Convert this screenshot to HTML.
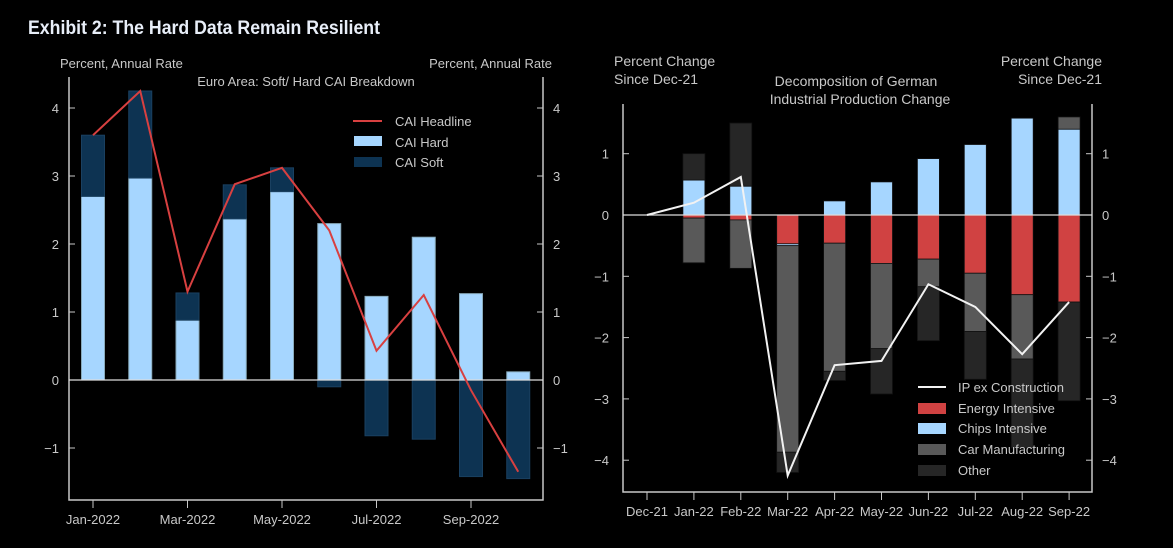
<!DOCTYPE html>
<html><head><meta charset="utf-8"><style>
html,body{margin:0;padding:0;background:#000;}
svg{display:block;font-family:"Liberation Sans",sans-serif;}
</style></head><body>
<svg id="s" width="1173" height="548" viewBox="0 0 1173 548">
<text x="28" y="34" fill="#e8eef8" font-size="19" font-weight="bold" textLength="352" lengthAdjust="spacingAndGlyphs" font-family="'Liberation Sans Narrow','Liberation Sans',sans-serif">Exhibit 2: The Hard Data Remain Resilient</text>
</svg>
<script>
const leftMonths=['Jan-2022','Feb','Mar-2022','Apr','May-2022','Jun','Jul-2022','Aug','Sep-2022','Oct'];
const caiHard=[2.7,2.97,0.88,2.37,2.77,2.3,1.23,2.1,1.27,0.12];
const caiSoft=[0.9,1.28,0.4,0.5,0.35,-0.1,-0.82,-0.87,-1.42,-1.45];
const caiHeadline=[3.6,4.25,1.3,2.88,3.12,2.2,0.43,1.25,-0.15,-1.35];
const leftTicks=[-1,0,1,2,3,4];
const rightMonths=['Dec-21','Jan-22','Feb-22','Mar-22','Apr-22','May-22','Jun-22','Jul-22','Aug-22','Sep-22'];
const energy=[0,-0.05,-0.08,-0.47,-0.46,-0.79,-0.72,-0.95,-1.3,-1.42];
const chips=[0,0.57,0.47,-0.03,0.23,0.54,0.92,1.15,1.58,1.4];
const cars=[0,-0.73,-0.79,-3.37,-2.09,-1.39,-0.45,-0.95,-1.05,0.2];
const other=[0,0.43,1.03,-0.33,-0.15,-0.74,-0.88,-0.78,-1.45,-1.61];
const ipLine=[0,0.2,0.62,-4.25,-2.45,-2.38,-1.13,-1.5,-2.27,-1.42];
const rightTicks=[-4,-3,-2,-1,0,1];
const NS='http://www.w3.org/2000/svg';const svg=document.getElementById('s');
function el(t,a,txt){const e=document.createElementNS(NS,t);for(const k in a)e.setAttribute(k,a[k]);if(txt!==undefined)e.textContent=txt;svg.appendChild(e);return e;}
const G='#c8c8c8';
const L={x0:69,x1:543,top:77,bot:500,y0:380,u:68,c0:93,sp:47.25,bw:23};
const ly=v=>L.y0-v*L.u, lx=i=>L.c0+i*L.sp;
let e;
e=el('polyline',{points:`${L.x0},${L.top} ${L.x0},${L.bot} ${L.x1},${L.bot} ${L.x1},${L.top}`,fill:'none',stroke:G,'stroke-width':1.5});

leftTicks.forEach(t=>{const y=ly(t);
 e=el('line',{x1:L.x0,x2:L.x0+6,y1:y,y2:y,stroke:G});
 e=el('line',{x1:L.x1-6,x2:L.x1,y1:y,y2:y,stroke:G});
 e=el('text',{x:L.x0-10,y:y+5,fill:G,'font-size':13,'text-anchor':'end'},t<0?'\u2212'+(-t):t);
 e=el('text',{x:L.x1+10,y:y+5,fill:G,'font-size':13},t<0?'\u2212'+(-t):t);});
leftMonths.forEach((m,i)=>{if(i%2)return;const x=lx(i);
 e=el('line',{x1:x,x2:x,y1:L.bot,y2:L.bot+8,stroke:G});
 e=el('text',{x:x,y:L.bot+24,fill:G,'font-size':13,'text-anchor':'middle'},m);});
caiHard.forEach((h,i)=>{const x=lx(i)-L.bw/2;
 e=el('rect',{x:x,y:Math.min(ly(h),ly(0)),width:L.bw,height:Math.abs(ly(h)-ly(0)),fill:'#a6d6ff',stroke:'#8ab'});
 const s=caiSoft[i];const b=s>=0?Math.max(h,0):Math.min(h,0);
 e=el('rect',{x:x,y:Math.min(ly(b),ly(b+s)),width:L.bw,height:Math.abs(s*L.u),fill:'#0d3352',stroke:'#1a4060'});});
e=el('line',{x1:L.x0,x2:L.x1,y1:ly(0),y2:ly(0),stroke:'#ddd','stroke-width':1.2});
e=el('polyline',{points:caiHeadline.map((v,i)=>lx(i)+','+ly(v)).join(' '),fill:'none',stroke:'#d84040','stroke-width':2});
e=el('text',{x:60,y:68,fill:G,'font-size':13},'Percent, Annual Rate');
e=el('text',{x:552,y:68,fill:G,'font-size':13,'text-anchor':'end'},'Percent, Annual Rate');
e=el('text',{x:306,y:86,fill:G,'font-size':13,'text-anchor':'middle'},'Euro Area: Soft/ Hard CAI Breakdown');
e=el('line',{x1:353,x2:382,y1:121,y2:121,stroke:'#d84040','stroke-width':2});
e=el('rect',{x:354,y:136,width:28,height:10,fill:'#a6d6ff'});
e=el('rect',{x:354,y:157,width:28,height:10,fill:'#0d3352'});
[['CAI Headline',126],['CAI Hard',147],['CAI Soft',167]].forEach(([t,y])=>{e=el('text',{x:395,y:y,fill:G,'font-size':13},t);});
const R={x0:623,x1:1092,top:104,bot:492,y0:215,u:61.3,c0:647,sp:46.9,bw:22};
const ry=v=>R.y0-v*R.u, rx=i=>R.c0+i*R.sp;
e=el('polyline',{points:`${R.x0},${R.top} ${R.x0},${R.bot} ${R.x1},${R.bot} ${R.x1},${R.top}`,fill:'none',stroke:G,'stroke-width':1.5});

rightTicks.forEach(t=>{const y=ry(t);
 e=el('line',{x1:R.x0,x2:R.x0+6,y1:y,y2:y,stroke:G});
 e=el('line',{x1:R.x1-6,x2:R.x1,y1:y,y2:y,stroke:G});
 e=el('text',{x:R.x0-14,y:y+5,fill:G,'font-size':13,'text-anchor':'end'},t<0?'\u2212'+(-t):t);
 e=el('text',{x:R.x1+10,y:y+5,fill:G,'font-size':13},t<0?'\u2212'+(-t):t);});
rightMonths.forEach((m,i)=>{const x=rx(i);
 e=el('line',{x1:x,x2:x,y1:R.bot,y2:R.bot+8,stroke:G});
 e=el('text',{x:x,y:R.bot+24,fill:G,'font-size':13,'text-anchor':'middle'},m);});
const series=[[energy,'#d04242','energy-bar'],[chips,'#a6d6ff','chips-bar'],[cars,'#595959','car-bar'],[other,'#262626','other-bar']];
rightMonths.forEach((m,i)=>{let pos=0,neg=0;const x=rx(i)-R.bw/2;
 series.forEach(([arr,col,nm])=>{const v=arr[i];if(!v)return;let a,b;
  if(v>0){a=pos;b=pos+v;pos=b;}else{a=neg;b=neg+v;neg=b;}
  e=el('rect',{x:x,y:Math.min(ry(a),ry(b)),width:R.bw,height:Math.abs(v*R.u),fill:col,stroke:'#111','stroke-width':0.8});
  });});
e=el('line',{x1:R.x0,x2:R.x1,y1:ry(0),y2:ry(0),stroke:'#ddd','stroke-width':1.2});
e=el('polyline',{points:ipLine.map((v,i)=>rx(i)+','+ry(v)).join(' '),fill:'none',stroke:'#f2f2f2','stroke-width':2});
[['Percent Change',66,614,'start'],['Since Dec-21',84,614,'start'],['Percent Change',66,1102,'end'],['Since Dec-21',84,1102,'end']].forEach(([t,y,x,a])=>{e=el('text',{x:x,y:y,fill:G,'font-size':14,'text-anchor':a},t);});
e=el('text',{x:856,y:86,fill:G,'font-size':14,'text-anchor':'middle'},'Decomposition of German');
e=el('text',{x:860,y:104,fill:G,'font-size':14,'text-anchor':'middle'},'Industrial Production Change');
e=el('line',{x1:918,x2:946,y1:387,y2:387,stroke:'#f2f2f2','stroke-width':2});
[['#d04242',408],['#a6d6ff',428],['#595959',449],['#262626',470]].forEach(([c,y])=>{e=el('rect',{x:918,y:y-5,width:28,height:11,fill:c});});
[['IP ex Construction',387],['Energy Intensive',408],['Chips Intensive',428],['Car Manufacturing',449],['Other',470]].forEach(([t,y])=>{e=el('text',{x:958,y:y+5,fill:G,'font-size':13},t);});
</script>
</body></html>
